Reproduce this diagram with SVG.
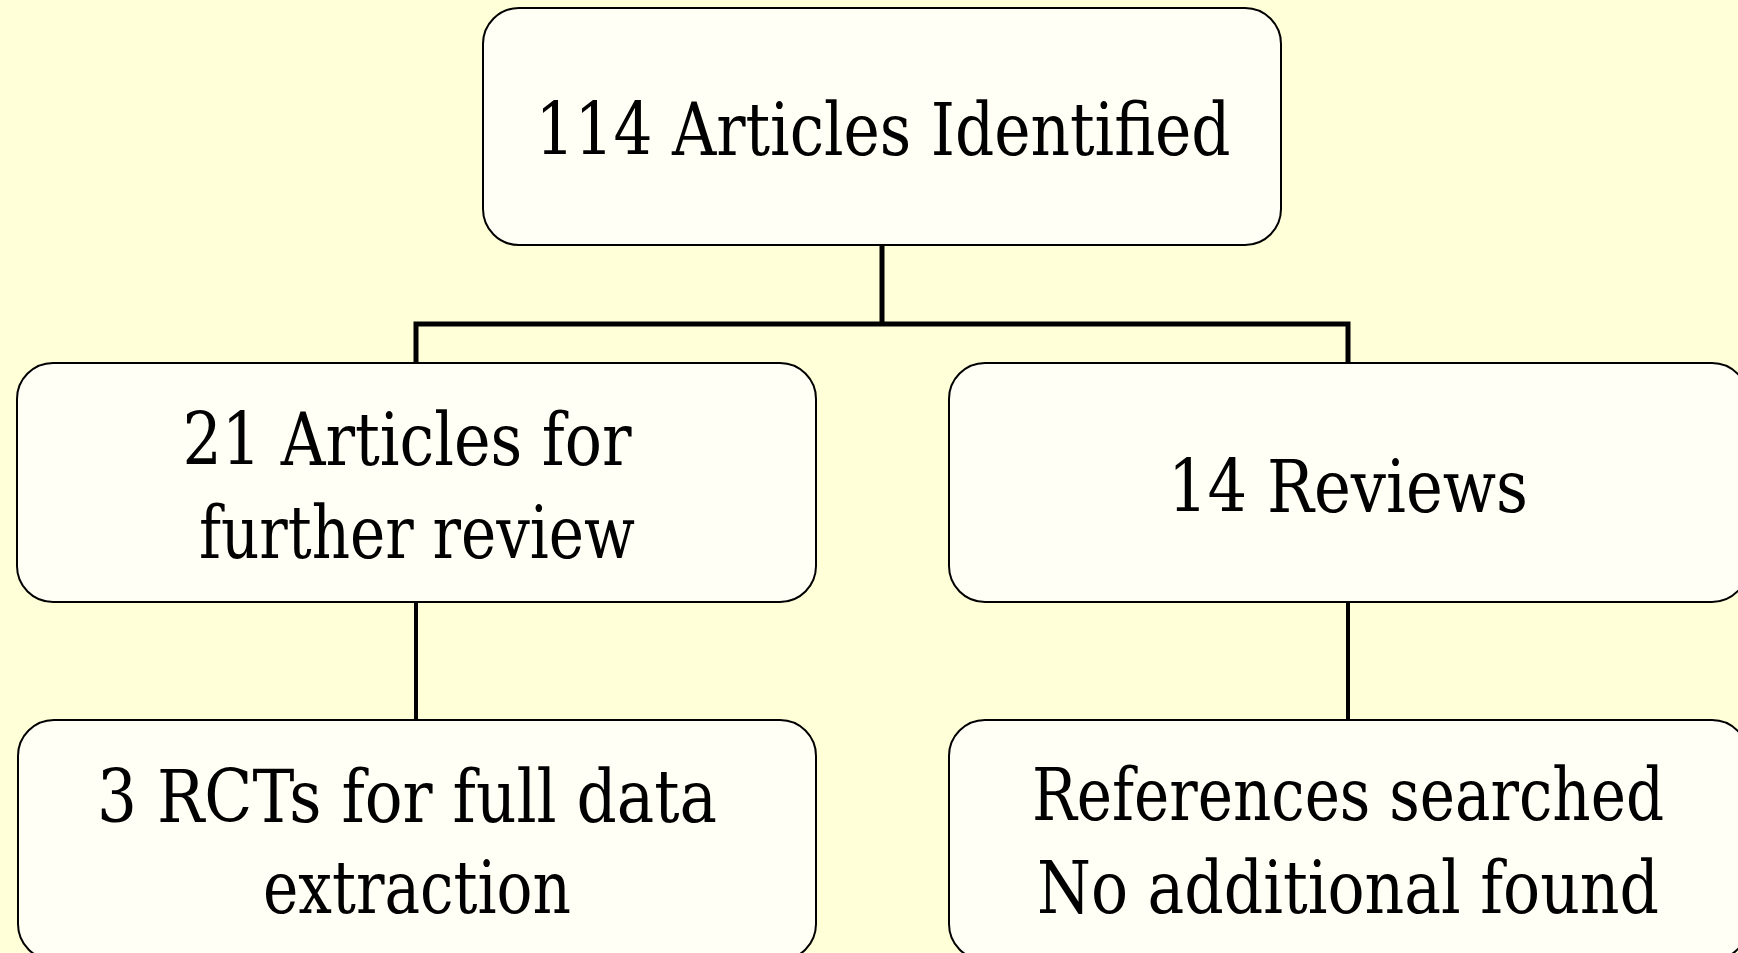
<svg xmlns="http://www.w3.org/2000/svg" width="1738" height="953" viewBox="0 0 1738 953">
<style>
.box{fill:#FFFFF6;stroke:#000;stroke-width:2}
.lbl{font-family:'DejaVu Serif Condensed','DejaVu Serif','Liberation Serif',serif;font-stretch:condensed;font-size:73px;fill:#000;text-anchor:middle}
.con{stroke:#000;fill:none;stroke-width:5;stroke-linecap:square}
.con2{stroke:#000;fill:none;stroke-width:4}
</style>
<rect x="0" y="0" width="1738" height="953" fill="#FFFFD8"/>
<g id="connectors">
<path class="con" d="M882 245 V324 M416 363 V324 H1348 V363"/>
<path class="con2" d="M416 602 V720 M1348 602 V720"/>
</g>
<g id="n-identified">
<rect class="box" x="483" y="8" width="798" height="237" rx="36" ry="36"/>
<text class="lbl" x="883" y="155" textLength="695" lengthAdjust="spacingAndGlyphs">114 Articles Identified</text>
</g>
<g id="n-further">
<rect class="box" x="17" y="363" width="799" height="239" rx="36" ry="36"/>
<text class="lbl" x="407" y="465" textLength="449" lengthAdjust="spacingAndGlyphs">21 Articles for</text>
<text class="lbl" x="417" y="558" textLength="436" lengthAdjust="spacingAndGlyphs">further review</text>
</g>
<g id="n-reviews">
<rect class="box" x="949" y="363" width="799" height="239" rx="36" ry="36"/>
<text class="lbl" x="1348" y="512" textLength="360" lengthAdjust="spacingAndGlyphs">14 Reviews</text>
</g>
<g id="n-rcts">
<rect class="box" x="18" y="720" width="798" height="240" rx="36" ry="36"/>
<text class="lbl" x="407" y="822" textLength="620" lengthAdjust="spacingAndGlyphs">3 RCTs for full data</text>
<text class="lbl" x="417" y="913" textLength="308" lengthAdjust="spacingAndGlyphs">extraction</text>
</g>
<g id="n-references">
<rect class="box" x="949" y="720" width="799" height="240" rx="36" ry="36"/>
<text class="lbl" x="1348" y="820" textLength="632" lengthAdjust="spacingAndGlyphs">References searched</text>
<text class="lbl" x="1348" y="913" textLength="622" lengthAdjust="spacingAndGlyphs">No additional found</text>
</g>
</svg>
